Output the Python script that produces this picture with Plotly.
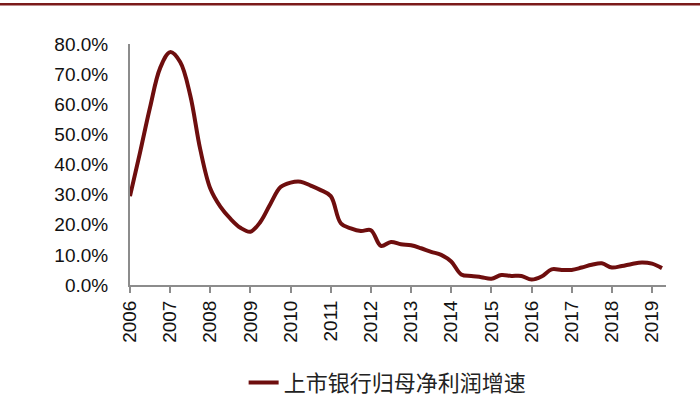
import plotly.graph_objects as go

# Quarterly categories 2006Q1 .. 2019Q2
years = list(range(2006, 2020))
quarters = [f"{y}Q{q}" for y in years for q in (1, 2, 3, 4)][:54]

growth = [29.5, 44.0, 59.0, 72.0, 77.3, 74.0, 63.0, 45.0,
          32.0, 26.0, 22.0, 19.0, 17.7, 21.0, 27.0, 32.5,
          34.0, 34.3, 33.0, 31.5, 29.5, 20.5, 18.8, 17.9,
          18.2, 13.0, 14.3, 13.5, 13.2, 12.2, 11.0, 10.0,
          7.8, 3.5, 3.0, 2.6, 2.1, 3.3, 3.0, 3.0,
          1.8, 2.8, 5.2, 5.0, 5.0, 5.8, 6.7, 7.2,
          5.8, 6.3, 7.0, 7.5, 7.1, 5.6]

series_name = "上市银行归母净利润增速"
year_ticks = [f"{y}Q1" for y in years]
year_labels = [str(y) for y in years]
y_ticks = [0, 10, 20, 30, 40, 50, 60, 70, 80]

LINE = "#6E0E0E"
AXIS = "#8C8C8C"

fig = go.Figure()
fig.add_trace(go.Scatter(
    x=quarters, y=growth, mode="lines", name=series_name,
    line=dict(color=LINE, width=4, shape="spline", smoothing=1.0),
))

fig.update_layout(
    width=700, height=419,
    margin=dict(l=130, r=34, t=44, b=134),
    paper_bgcolor="white", plot_bgcolor="white",
    font=dict(family="Liberation Sans", size=19, color="#111111"),
    showlegend=True,
    legend=dict(orientation="h", x=0.212, xanchor="left", y=-0.405, yanchor="middle",
                font=dict(family="Noto Sans CJK SC", size=22, color="#222222"),
                bgcolor="rgba(0,0,0,0)"),
    xaxis=dict(type="category", categoryorder="array", categoryarray=quarters,
               range=[0, 53.4], tickmode="array", tickvals=year_ticks, ticktext=year_labels,
               tickangle=-90, showgrid=False, zeroline=False, automargin=False,
               showline=True, linecolor=AXIS, linewidth=2,
               ticks="outside", ticklen=6, tickwidth=2, tickcolor=AXIS,
               tickfont=dict(size=19)),
    yaxis=dict(range=[0, 80], tickmode="array", tickvals=y_ticks,
               ticktext=[f"{v:.1f}%" for v in y_ticks], automargin=False,
               showgrid=False, zeroline=False, showline=True, linecolor=AXIS, linewidth=2,
               ticks="", ticklabelstandoff=16, tickfont=dict(size=19)),
)

# top decorative rule
fig.add_shape(type="line", xref="paper", yref="paper",
              x0=-0.25, x1=1.07, y0=1.1647, y1=1.1647,
              line=dict(color="#7B1A1A", width=2.5))

fig.write_html("out.html", config={"displayModeBar": False},
               post_script="document.body.style.margin='0';document.body.style.padding='0';")
